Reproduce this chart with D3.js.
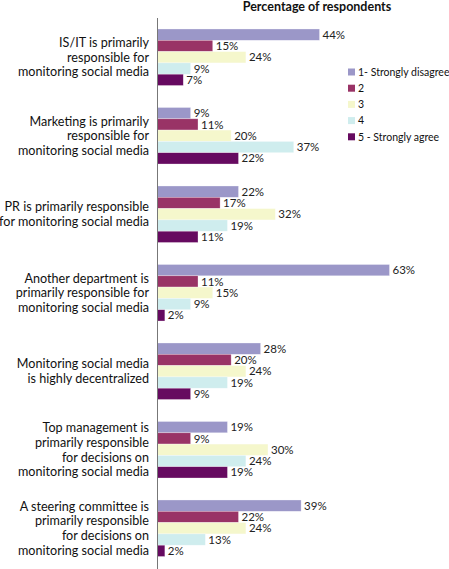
<!DOCTYPE html>
<html>
<head>
<meta charset="utf-8">
<script src="https://cdn.jsdelivr.net/npm/d3@7"></script>
<style>
  body { margin: 0; background: #fff; }
  svg { display: block; font-family: Lato, "Liberation Sans", sans-serif; }
</style>
</head>
<body>
<div class="vis-bars"></div>
<script>
// statements (one label line per entry)
const statements = [
    ["IS/IT is primarily", "responsible for", "monitoring social media"],
    ["Marketing is primarily", "responsible for", "monitoring social media"],
    ["PR is primarily responsible", "for monitoring social media"],
    ["Another department is", "primarily responsible for", "monitoring social media"],
    ["Monitoring social media", "is highly decentralized"],
    ["Top management is", "primarily responsible", "for decisions on", "monitoring social media"],
    ["A steering committee is", "primarily responsible", "for decisions on", "monitoring social media"]
];
const seriesNames = ["1- Strongly disagree", "2", "3", "4", "5 - Strongly agree"];
const s1 = [44, 9, 22, 63, 28, 19, 39];
const s2 = [15, 11, 17, 11, 20, 9, 22];
const s3 = [24, 20, 32, 15, 24, 30, 24];
const s4 = [9, 37, 19, 9, 19, 24, 13];
const s5 = [7, 22, 11, 2, 9, 19, 2];
const colors = ["#9b97c8", "#993366", "#f5f7cc", "#cfedee", "#660a60"];

const series = [s1, s2, s3, s4, s5];
const width = 449, height = 569;

const svg = d3.select('.vis-bars').append('svg')
    .attr('width', width)
    .attr('height', height);

const x = d3.scaleLinear()
    .domain([0, 63])
    .range([157.5, 389.5]);

const y = d3.scaleBand()
    .domain(d3.range(statements.length))
    .range([18, 567.5])
    .paddingInner(0.28)
    .paddingOuter(0.14);

const ySub = d3.scaleBand()
    .domain(d3.range(series.length))
    .range([0, y.bandwidth()]);

// title
svg.append("text")
    .attr("x", 317)
    .attr("y", 11)
    .attr("text-anchor", "middle")
    .style("font-size", "12.5px")
    .style("font-weight", "bold")
    .attr("fill", "#111")
    .text("Percentage of respondents");

// bars
const groups = svg.selectAll(".grp")
    .data(statements)
    .enter()
    .append("g")
    .attr("class", "grp")
    .attr("transform", (d, i) => "translate(0," + y(i) + ")");

groups.each(function(lines, i) {
    const g = d3.select(this);
    series.forEach((s, k) => {
        g.append("rect")
            .attr("x", x(0))
            .attr("y", ySub(k))
            .attr("width", x(s[i]) - x(0))
            .attr("height", ySub.bandwidth())
            .attr("fill", colors[k])
            .attr("stroke", "#fff")
            .attr("stroke-opacity", 0.5)
            .attr("stroke-width", 0.6);
        g.append("text")
            .attr("x", x(s[i]) + 3)
            .attr("y", ySub(k) + ySub.bandwidth() / 2)
            .attr("dy", "0.36em")
            .style("font-size", "11.5px")
            .attr("fill", "#222")
            .text(s[i] + "%");
    });
    // category label
    const lh = 14.6;
    const mid = y.bandwidth() / 2;
    g.append("text")
        .attr("text-anchor", "end")
        .style("font-size", "12.6px")
        .attr("fill", "#111")
        .selectAll("tspan")
        .data(lines)
        .enter()
        .append("tspan")
        .attr("x", 149)
        .attr("y", (d, j) => mid + (j - (lines.length - 1) / 2) * lh)
        .attr("dy", "0.36em")
        .text(d => d);
});

// axis line
svg.append("line")
    .attr("x1", x(0)).attr("x2", x(0))
    .attr("y1", 18).attr("y2", height)
    .attr("stroke", "#777")
    .attr("stroke-width", 1);

// legend
const legend = svg.append("g")
    .attr("transform", "translate(348,72)");
seriesNames.forEach((name, k) => {
    legend.append("rect")
        .attr("x", 0)
        .attr("y", k * 16.2 - 3.5)
        .attr("width", 7)
        .attr("height", 7)
        .attr("fill", colors[k]);
    legend.append("text")
        .attr("x", 10)
        .attr("y", k * 16.2)
        .attr("dy", "0.36em")
        .style("font-size", "10.5px")
        .attr("fill", "#111")
        .text(name);
});
</script>
</body>
</html>
